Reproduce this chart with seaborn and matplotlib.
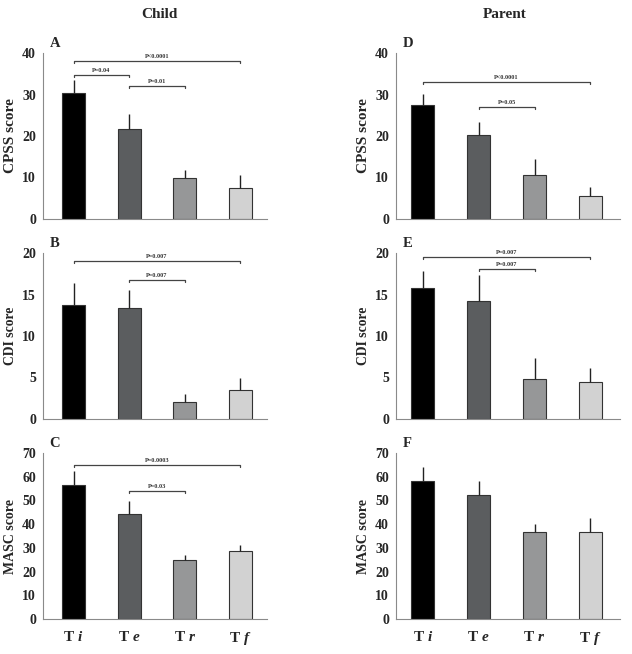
import numpy as np
import pandas as pd
import matplotlib
matplotlib.use("Agg")
import matplotlib.pyplot as plt
import seaborn as sns

sns.set_style("white")
plt.rcParams['font.family'] = ['Liberation Serif', 'DejaVu Serif']
plt.rcParams['mathtext.fontset'] = 'custom'
plt.rcParams['mathtext.rm'] = 'Liberation Serif:bold'
plt.rcParams['mathtext.it'] = 'Liberation Serif:bold:italic'

# ---- data ----
times = ["Ti", "Te", "Tr", "Tf"]
time_labels = [r"$\mathrm{T}\ \mathit{i}$", r"$\mathrm{T}\ \mathit{e}$",
               r"$\mathrm{T}\ \mathit{r}$", r"$\mathrm{T}\ \mathit{f}$"]
bar_colors = ["#000000", "#5a5d60", "#969798", "#d2d2d2"]

cpss_child = [30.4, 21.8, 9.9, 7.5]
cpss_child_sd = [3.2, 3.6, 2.0, 3.2]
cdi_child = [13.7, 13.4, 2.0, 3.5]
cdi_child_sd = [2.7, 2.2, 1.0, 1.4]
masc_child = [56.7, 44.4, 24.9, 28.7]
masc_child_sd = [5.6, 5.2, 2.0, 2.4]

cpss_parent = [27.4, 20.3, 10.7, 5.6]
cpss_parent_sd = [2.7, 3.0, 3.8, 2.1]
cdi_parent = [15.8, 14.2, 4.8, 4.4]
cdi_parent_sd = [2.0, 3.1, 2.6, 1.8]
masc_parent = [58.2, 52.3, 36.8, 36.6]
masc_parent_sd = [6.1, 6.1, 3.4, 5.9]

# brackets: (from, to, height, label)
brackets_A = [(0, 3, 38.0, "P<0.0001"), (0, 1, 34.8, "P=0.04"), (1, 2, 32.0, "P=0.01")]
brackets_B = [(0, 3, 19.0, "P=0.007"), (1, 2, 16.7, "P=0.007")]
brackets_C = [(0, 3, 64.8, "P=0.0003"), (1, 2, 53.9, "P=0.03")]
brackets_D = [(0, 3, 32.9, "P<0.0001"), (1, 2, 27.1, "P=0.05")]
brackets_E = [(0, 3, 19.5, "P=0.007"), (1, 2, 18.1, "P=0.007")]
brackets_F = []

panels = [
    ("A", "CPSS score", cpss_child, cpss_child_sd, 40, 10, brackets_A, 0, 0),
    ("B", "CDI score", cdi_child, cdi_child_sd, 20, 5, brackets_B, 1, 0),
    ("C", "MASC score", masc_child, masc_child_sd, 70, 10, brackets_C, 2, 0),
    ("D", "CPSS score", cpss_parent, cpss_parent_sd, 40, 10, brackets_D, 0, 1),
    ("E", "CDI score", cdi_parent, cdi_parent_sd, 20, 5, brackets_E, 1, 1),
    ("F", "MASC score", masc_parent, masc_parent_sd, 70, 10, brackets_F, 2, 1),
]

label_size = {0: 11, 1: 9.8, 2: 10}

W, H = 632, 654
fig = plt.figure(figsize=(W / 100, H / 100), dpi=100)

row_bottom = [219, 419, 619]
col_left = [43, 396]
col_width = [224, 224]
col_xlim = [(-0.55, 3.48), (-0.48, 3.53)]
ax_h = 166
spine_col = "#8a8a8a"

for letter, ylabel, vals, sds, ymax, ystep, brs, r, c in panels:
    ax = fig.add_axes([col_left[c] / W, 1 - row_bottom[r] / H,
                       col_width[c] / W, ax_h / H])
    df = pd.DataFrame({"time": times, "score": vals})
    sns.barplot(data=df, x="time", y="score", hue="time", palette=bar_colors,
                width=0.41, edgecolor="#333333", linewidth=0.8, legend=False,
                errorbar=None, ax=ax)
    ax.errorbar(np.arange(len(times)), vals, yerr=[np.zeros(len(sds)), sds],
                fmt="none", ecolor="#222222", elinewidth=1.0, capsize=0)

    for i0, i1, h, lab in brs:
        tick = ymax * 0.012
        ax.plot([i0, i0, i1, i1], [h - tick, h, h, h - tick], color="#444444", lw=0.9)
        ax.text((i0 + i1) / 2, h + ymax * 0.012, lab, ha="center", va="bottom",
                fontsize=4.5, fontweight="bold", color="#333333")

    ax.set_xlim(*col_xlim[c])
    ax.set_ylim(0, ymax)
    ax.set_yticks(np.arange(0, ymax + 1, ystep))
    ax.set_xlabel("")
    ax.set_ylabel(ylabel, fontsize=label_size[r], fontweight="bold", labelpad=4)
    ax.tick_params(axis="y", labelsize=10, length=3, color=spine_col, pad=2)
    for t in ax.get_yticklabels():
        t.set_fontweight("bold")
    if r == 2:
        ax.set_xticks(range(len(times)))
        ax.set_xticklabels(time_labels, fontsize=11)
        ax.tick_params(axis="x", length=0, pad=8)
    else:
        ax.set_xticks([])
    sns.despine(ax=ax)
    ax.spines["left"].set_color(spine_col)
    ax.spines["bottom"].set_color(spine_col)
    ax.text(0.03, 1.02, letter, transform=ax.transAxes, fontsize=10.5,
            fontweight="bold", ha="left", va="bottom")

fig.text(159 / W, 1 - 15 / H, "Child", fontsize=11, fontweight="bold", ha="center", va="center")
fig.text(505 / W, 1 - 15 / H, "Parent", fontsize=11, fontweight="bold", ha="center", va="center")

fig.savefig("out.png", dpi=100)
